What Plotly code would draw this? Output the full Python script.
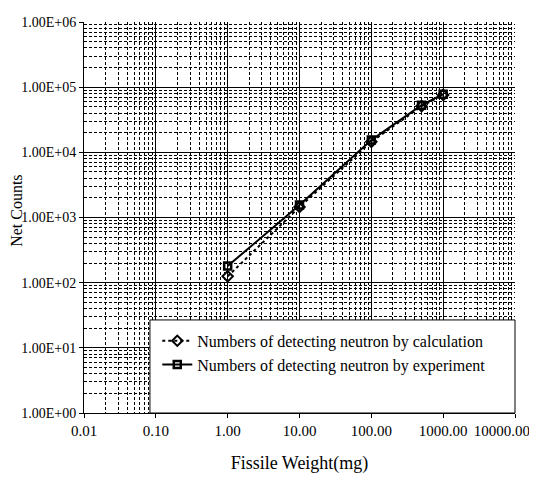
import plotly.graph_objects as go

# Data
weight_mg = [1, 10, 100, 500, 1000]
counts_calc = [125, 1450, 14500, 51000, 76000]
counts_exp = [180, 1550, 15400, 53000, 78000]

x_tickvals = [0.01, 0.1, 1, 10, 100, 1000, 10000]
x_ticktext = ["0.01", "0.10", "1.00", "10.00", "100.00", "1000.00", "10000.00" + "\u00a0" * 7]
y_tickvals = [1, 10, 100, 1000, 10000, 100000, 1000000]
y_ticktext = ["1.00E+00", "1.00E+01", "1.00E+02", "1.00E+03", "1.00E+04", "1.00E+05", "1.00E+06"]

x_minor = [k * 10.0 ** d for d in range(-2, 4) for k in range(2, 10)]
y_minor = [k * 10.0 ** d for d in range(0, 6) for k in range(2, 10)]

FONT = "Liberation Serif, Times New Roman, DejaVu Serif, serif"

fig = go.Figure()
fig.add_trace(go.Scatter(
    x=weight_mg, y=counts_calc, mode="lines+markers",
    name="Numbers of detecting neutron by calculation",
    line=dict(color="black", width=2, dash="dot"),
    marker=dict(symbol="diamond-open", size=8, color="black", line=dict(width=2, color="black")),
))
fig.add_trace(go.Scatter(
    x=weight_mg, y=counts_exp, mode="lines+markers",
    name="Numbers of detecting neutron by experiment",
    line=dict(color="black", width=2),
    marker=dict(symbol="square-open", size=7, color="black", line=dict(width=2.5, color="black")),
))

axis_common = dict(
    showline=True, linecolor="black", linewidth=1,
    ticks="outside", ticklen=4, tickcolor="black",
    showgrid=True, gridcolor="black", gridwidth=1.3,
    zeroline=False, automargin=False, ticklabeloverflow="allow",
)

fig.update_xaxes(
    type="log", range=[-2, 4],
    tickmode="array", tickvals=x_tickvals, ticktext=x_ticktext,
    tickfont=dict(family=FONT, size=15, color="black"),
    title=dict(text="Fissile Weight(mg)", font=dict(family=FONT, size=18, color="black"), standoff=18),
    minor=dict(tickmode="array", tickvals=x_minor, showgrid=True,
               gridcolor="black", gridwidth=1, griddash="3px,2px"),
    **axis_common,
)
fig.update_yaxes(
    type="log", range=[0, 6],
    tickmode="array", tickvals=y_tickvals, ticktext=y_ticktext,
    tickfont=dict(family=FONT, size=14, color="black"),
    minor=dict(tickmode="array", tickvals=y_minor, showgrid=True,
               gridcolor="black", gridwidth=1, griddash="3px,2px"),
    **axis_common,
)

fig.add_annotation(
    text="Net Counts", xref="paper", yref="paper", x=0, y=0.517,
    xanchor="center", yanchor="middle", xshift=-67, textangle=-90,
    showarrow=False, font=dict(family=FONT, size=16, color="black"),
)

fig.add_shape(type="rect", xref="paper", yref="paper",
              x0=0.153, x1=1.0, y0=0.0, y1=0.238,
              fillcolor="white", line=dict(color="black", width=1), layer="above")

fig.update_layout(
    width=529, height=475,
    margin=dict(l=76, r=22, t=14, b=70, autoexpand=False),
    paper_bgcolor="white", plot_bgcolor="white",
    font=dict(family=FONT, color="black"),
    showlegend=True,
    legend=dict(
        x=0.17, y=0.228, xanchor="left", yanchor="top",
        bgcolor="rgba(0,0,0,0)", borderwidth=0,
        font=dict(family=FONT, size=16, color="black"),
        itemwidth=30, tracegroupgap=0,
    ),
)

fig.write_html("out.html")
